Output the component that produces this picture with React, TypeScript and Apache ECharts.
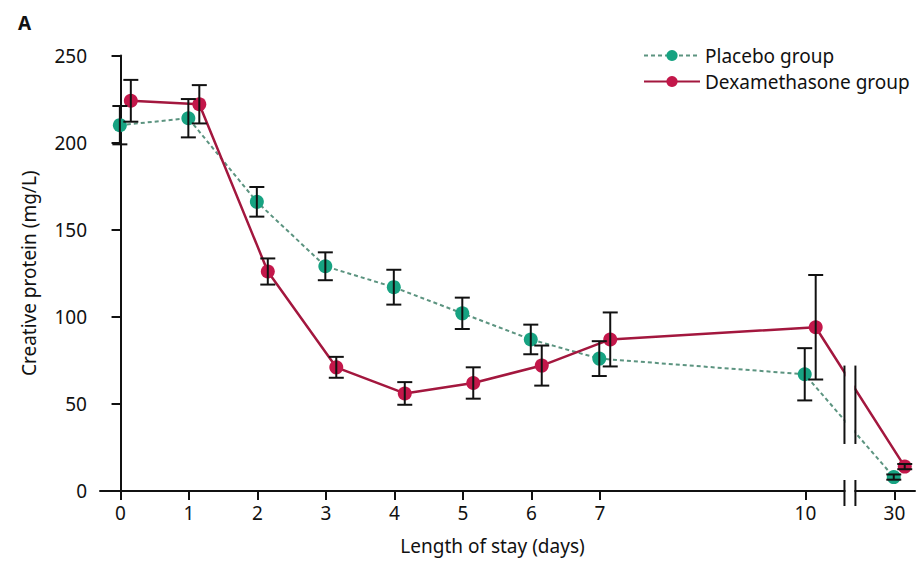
import React, { useEffect, useRef } from "react";
import * as echarts from "echarts";

// ---- data ----
const days = [0, 1, 2, 3, 4, 5, 6, 7, 10, 30];
const placeboMean = [210, 214, 166, 129, 117, 102, 87, 76, 67, 8];
const placeboErr = [11, 11, 8.5, 8, 10, 9, 8.5, 10, 15, 1.5];
const dexMean = [224, 222, 126, 71, 56, 62, 72, 87, 94, 14];
const dexErr = [12, 11, 7.5, 6, 6.5, 9, 11.5, 15.5, 30, 1.5];
const xTickDays = [0, 1, 2, 3, 4, 5, 6, 7, 10, 30];
const yTicks = [0, 50, 100, 150, 200, 250];

// broken-axis transform: linear up to day 10, compressed after
const BREAK_DAY = 10;
const COMPRESS = 0.065;
const pos = (d: number) => (d <= BREAK_DAY ? d : BREAK_DAY + (d - BREAK_DAY) * COMPRESS);
const unpos = (p: number) => (p <= BREAK_DAY + 1e-9 ? p : BREAK_DAY + (p - BREAK_DAY) / COMPRESS);

const PLACEBO_DX = -0.01;
const DEX_DX = 0.15;
const BREAK_L = 10.57;
const BREAK_R = 10.73;

const FONT = "'Noto Sans', 'DejaVu Sans', sans-serif";
const FS = 19;

export default function App() {
  const ref = useRef<HTMLDivElement>(null);

  useEffect(() => {
    const chart = echarts.init(ref.current!, null, { renderer: "svg" });

    const placeboPts = days.map((d, i) => [pos(d) + PLACEBO_DX, placeboMean[i]]);
    const dexPts = days.map((d, i) => [pos(d) + DEX_DX, dexMean[i]]);
    const placeboErrData = days.map((d, i) => [pos(d) + PLACEBO_DX, placeboMean[i] - placeboErr[i], placeboMean[i] + placeboErr[i]]);
    const dexErrData = days.map((d, i) => [pos(d) + DEX_DX, dexMean[i] - dexErr[i], dexMean[i] + dexErr[i]]);

    const errRender = (params: any, api: any) => {
      const x = api.value(0);
      const lo = api.coord([x, api.value(1)]);
      const hi = api.coord([x, api.value(2)]);
      const hw = 7.5;
      const st = { stroke: "#111", lineWidth: 2 };
      return {
        type: "group",
        children: [
          { type: "line", shape: { x1: lo[0], y1: lo[1], x2: hi[0], y2: hi[1] }, style: st },
          { type: "line", shape: { x1: lo[0] - hw, y1: lo[1], x2: lo[0] + hw, y2: lo[1] }, style: st },
          { type: "line", shape: { x1: hi[0] - hw, y1: hi[1], x2: hi[0] + hw, y2: hi[1] }, style: st },
        ],
      };
    };

    const breakRender = (params: any, api: any) => {
      const l = api.coord([BREAK_L, 0]);
      const r = api.coord([BREAK_R, 0]);
      const top = api.coord([BREAK_L, 72])[1];
      const bot = api.coord([BREAK_L, 27])[1];
      const axisY = l[1];
      const st = { stroke: "#111", lineWidth: 2 };
      return {
        type: "group",
        children: [
          { type: "rect", shape: { x: l[0] + 1, y: top - 10, width: r[0] - l[0] - 2, height: bot - top + 20 }, style: { fill: "#fff" } },
          { type: "line", shape: { x1: l[0], y1: top, x2: l[0], y2: bot }, style: st },
          { type: "line", shape: { x1: r[0], y1: top, x2: r[0], y2: bot }, style: st },
          { type: "rect", shape: { x: l[0] + 1, y: axisY - 3, width: r[0] - l[0] - 2, height: 6 }, style: { fill: "#fff" } },
          { type: "line", shape: { x1: l[0], y1: axisY - 11, x2: l[0], y2: axisY + 15 }, style: st },
          { type: "line", shape: { x1: r[0], y1: axisY - 11, x2: r[0], y2: axisY + 15 }, style: st },
        ],
      };
    };

    const tickPositions = xTickDays.map(pos);

    chart.setOption({
      animation: false,
      backgroundColor: "#fff",
      textStyle: { fontFamily: FONT, color: "#111" },
      title: {
        text: "A",
        left: 13,
        top: 8,
        textStyle: { fontFamily: FONT, fontSize: 19, fontWeight: "bold", color: "#111" },
      },
      legend: {
        data: ["Placebo group", "Dexamethasone group"],
        orient: "vertical",
        left: 643,
        top: 46,
        padding: 0,
        itemWidth: 56,
        itemHeight: 14,
        itemGap: 7,
        textStyle: { fontFamily: FONT, fontSize: FS, color: "#111" },
      },
      grid: { left: 100, right: 2, top: 55.5, bottom: 71, containLabel: false },
      xAxis: {
        type: "value",
        min: -0.3,
        max: 11.6,
        name: "Length of stay (days)",
        nameLocation: "middle",
        nameGap: 45,
        nameTextStyle: { fontFamily: FONT, fontSize: FS, color: "#111", padding: [0, 30, 0, 0] },
        splitLine: { show: false },
        axisLine: { lineStyle: { color: "#111", width: 2 } },
        axisTick: { show: true, length: 9, lineStyle: { color: "#111", width: 2 }, customValues: tickPositions },
        axisLabel: {
          customValues: tickPositions,
          margin: 12,
          fontFamily: FONT,
          fontSize: FS,
          color: "#111",
          formatter: (v: number) => String(Math.round(unpos(v))),
        },
      },
      yAxis: {
        type: "value",
        min: 0,
        max: 250,
        interval: 50,
        name: "Creative protein (mg/L)",
        nameLocation: "middle",
        nameGap: 62,
        nameTextStyle: { fontFamily: FONT, fontSize: FS, color: "#111" },
        splitLine: { show: false },
        axisLine: { show: true, lineStyle: { color: "#111", width: 2 } },
        axisTick: { show: true, length: 9, lineStyle: { color: "#111", width: 2 } },
        axisLabel: {
          margin: 13,
          fontFamily: FONT,
          fontSize: FS,
          color: "#111",
          customValues: yTicks,
        },
      },
      series: [
        {
          name: "Placebo group",
          type: "line",
          data: placeboPts,
          symbol: "circle",
          symbolSize: 14,
          z: 3,
          itemStyle: { color: "#17a382" },
          lineStyle: { color: "#5c9480", width: 2, type: [4, 3] },
        },
        {
          name: "Dexamethasone group",
          type: "line",
          data: dexPts,
          symbol: "circle",
          symbolSize: 14,
          z: 4,
          itemStyle: { color: "#c3174a" },
          lineStyle: { color: "#a3173e", width: 2.5 },
        },
        {
          name: "placeboErr",
          type: "custom",
          data: placeboErrData,
          renderItem: errRender,
          encode: { x: 0, y: [1, 2] },
          z: 6,
          silent: true,
        },
        {
          name: "dexErr",
          type: "custom",
          data: dexErrData,
          renderItem: errRender,
          encode: { x: 0, y: [1, 2] },
          z: 6,
          silent: true,
        },
        {
          name: "break",
          type: "custom",
          data: [[BREAK_L, 0]],
          renderItem: breakRender,
          clip: false,
          z: 10,
          silent: true,
        },
      ],
    });

    return () => chart.dispose();
  }, []);

  return <div ref={ref} style={{ position: "absolute", left: 0, top: 0, width: 917, height: 562 }} />;
}
